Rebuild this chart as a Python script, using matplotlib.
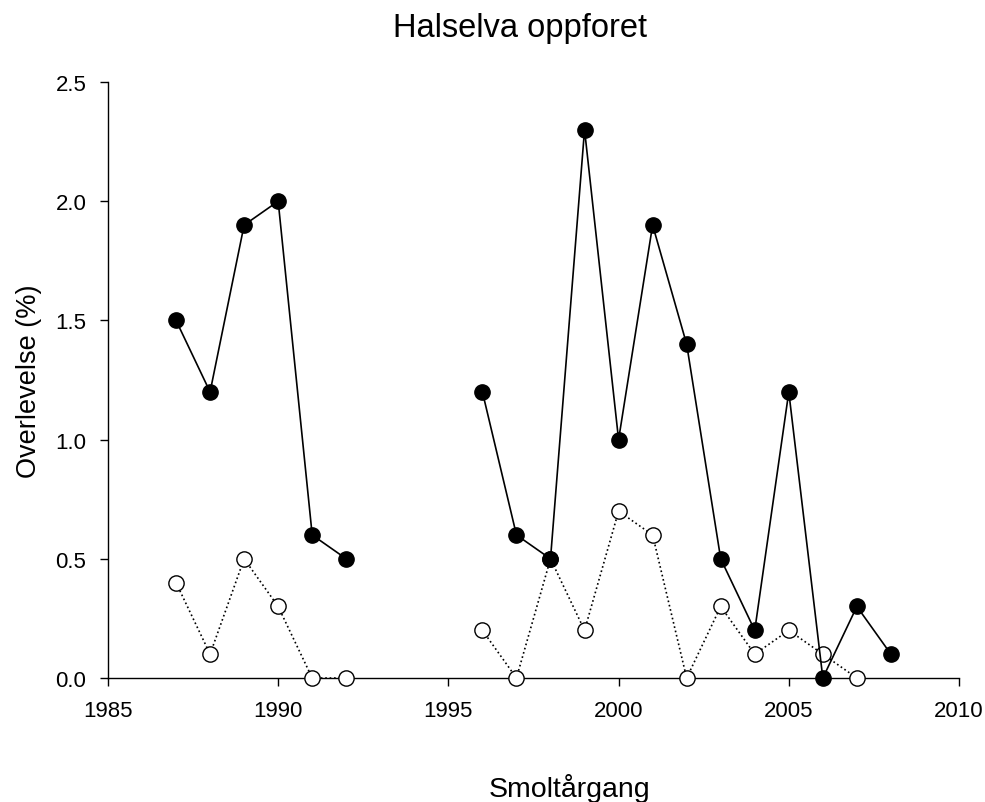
import numpy as np
import matplotlib.pyplot as plt

plt.rcParams["font.family"] = ["Liberation Sans", "DejaVu Sans"]

# ============================
# Data
# ============================

years = [1987, 1988, 1989, 1990, 1991, 1992, 1993,
         1996, 1997, 1998, 1999, 2000, 2001, 2002,
         2003, 2004, 2005, 2006, 2007, 2008]

# NaN at 1993 breaks the line between the two periods
filled = [1.5, 1.2, 1.9, 2.0, 0.6, 0.5, np.nan,
          1.2, 0.6, 0.5, 2.3, 1.0, 1.9, 1.4,
          0.5, 0.2, 1.2, 0.0, 0.3, 0.1]

open_ = [0.4, 0.1, 0.5, 0.3, 0.0, 0.0, np.nan,
         0.2, 0.0, 0.5, 0.2, 0.7, 0.6, 0.0,
         0.3, 0.1, 0.2, 0.1, 0.0, np.nan]

xticks = [1985, 1990, 1995, 2000, 2005, 2010]
yticks = [0.0, 0.5, 1.0, 1.5, 2.0, 2.5]

# ============================
# Plot
# ============================

fig = plt.figure(figsize=(9.85, 8.03), dpi=100)
ax = fig.add_axes([0.1096, 0.1544, 0.864, 0.7422])

ax.plot(years, open_, color="black", linestyle=":", linewidth=1.2,
        marker="o", markersize=11, markerfacecolor="white",
        markeredgecolor="black", markeredgewidth=1.0,
        clip_on=False, zorder=3)
ax.plot(years, filled, color="black", linestyle="-", linewidth=1.2,
        marker="o", markersize=11, markerfacecolor="black",
        markeredgecolor="black", clip_on=False, zorder=4)

ax.set_xlim(1985, 2010)
ax.set_ylim(0, 2.5)
ax.set_xticks(xticks)
ax.set_yticks(yticks)
ax.set_yticklabels([f"{v:.1f}" for v in yticks])

for side in ["top", "right"]:
    ax.spines[side].set_visible(False)
for side in ["left", "bottom"]:
    ax.spines[side].set_linewidth(1.0)

ax.tick_params(direction="out", length=6, width=1.0, labelsize=16, pad=9.5)

fig.text(520 / 985, 1 - 37 / 803, "Halselva oppforet", fontsize=23.5,
         ha="center", va="baseline")
ax.set_ylabel("Overlevelse (%)", fontsize=19.5, labelpad=10)
fig.text(569 / 985, 1 - 797 / 803, "Smoltårgang", fontsize=20.5,
         ha="center", va="baseline")

plt.savefig("out.png", dpi=100)
plt.close()
